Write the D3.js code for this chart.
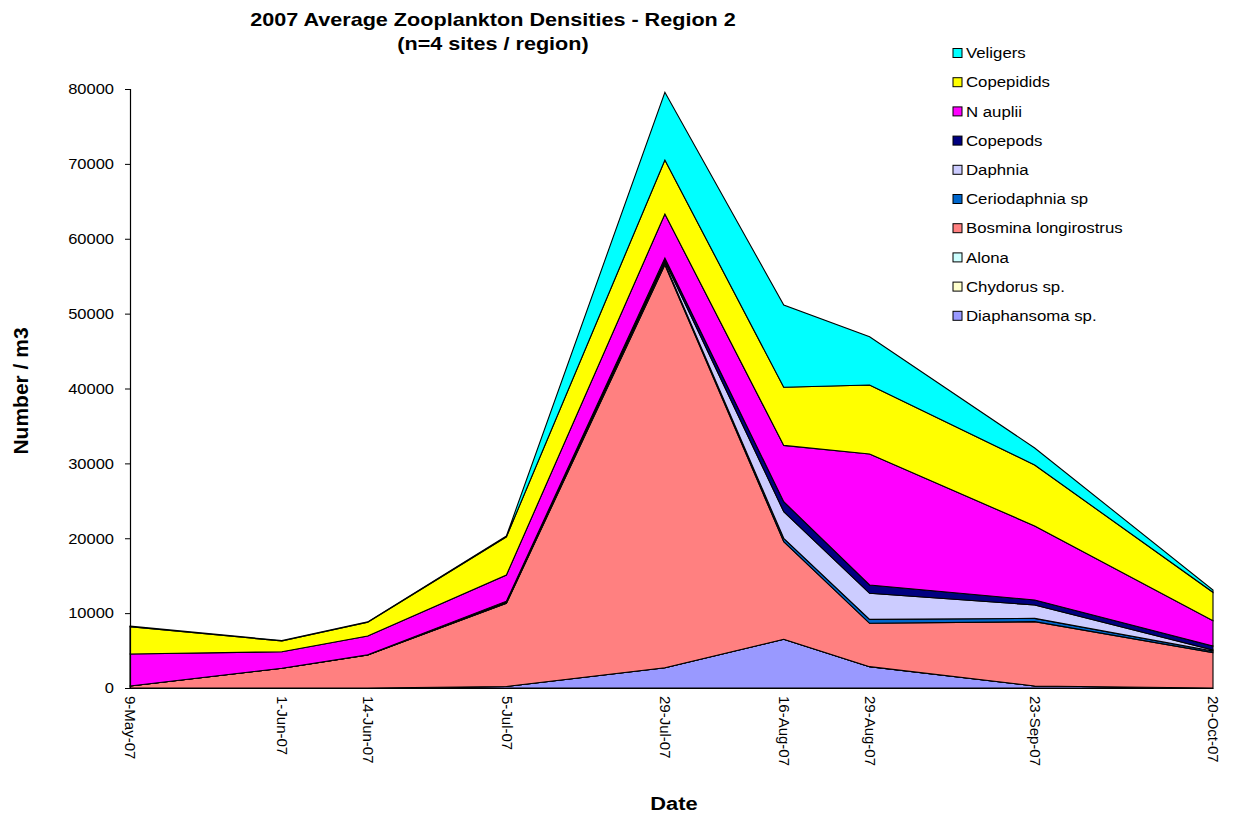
<!DOCTYPE html>
<html>
<head>
<meta charset="utf-8">
<script src="https://cdn.jsdelivr.net/npm/d3@7"></script>
<style>
  body { margin: 0; background: #fff; }
  svg { display: block; font-family: "Liberation Sans", Arial, sans-serif; }
</style>
</head>
<body>
<svg id="chart" width="1235" height="816"></svg>
<script>
// Sampling dates (Region 2, 2007)
const dateLabels = ["9-May-07", "1-Jun-07", "14-Jun-07", "5-Jul-07", "29-Jul-07", "16-Aug-07", "29-Aug-07", "23-Sep-07", "20-Oct-07"];

// Average densities (number / m3), one array per taxon
const diaphansoma = [0, 0, 0, 200, 2710, 6500, 2850, 270, 0];
const chydorus    = [0, 0, 0, 0, 0, 0, 0, 0, 0];
const alona       = [0, 0, 0, 0, 0, 0, 0, 0, 0];
const bosmina     = [270, 2630, 4400, 11100, 53800, 13040, 5790, 8590, 4720];
const ceriodaphnia = [0, 0, 0, 50, 200, 450, 530, 440, 200];
const daphnia     = [0, 0, 0, 100, 300, 3560, 3480, 1790, 160];
const copepods    = [0, 0, 50, 150, 400, 1330, 1110, 660, 530];
const nauplii     = [4270, 2220, 2490, 3480, 5900, 7520, 17490, 9890, 3380];
const copepidids  = [3650, 1430, 1830, 5120, 7210, 7760, 9220, 8140, 3790];
const veligers    = [80, 50, 60, 100, 9040, 10990, 6450, 2270, 310];

// Series, bottom of the stack first
const seriesNames = ["Diaphansoma sp.", "Chydorus sp.", "Alona", "Bosmina longirostrus", "Ceriodaphnia sp", "Daphnia", "Copepods", "N auplii", "Copepidids", "Veligers"];
const seriesValues = [diaphansoma, chydorus, alona, bosmina, ceriodaphnia, daphnia, copepods, nauplii, copepidids, veligers];
const seriesColors = ["#9999FF", "#FFFFCC", "#CCFFFF", "#FF8080", "#0066CC", "#CCCCFF", "#000080", "#FF00FF", "#FFFF00", "#00FFFF"];

const yTicks = [0, 10000, 20000, 30000, 40000, 50000, 60000, 70000, 80000];

const parse = d3.timeParse("%d-%b-%y");
const rows = dateLabels.map((lab, i) => {
  const r = { date: parse(lab), label: lab };
  seriesNames.forEach((n, k) => { r[n] = seriesValues[k][i]; });
  return r;
});

const svg = d3.select("#chart");
const plotLeft = 130, plotRight = 1213, plotTop = 89, plotBottom = 688;

const x = d3.scaleTime()
  .domain(d3.extent(rows, d => d.date))
  .range([plotLeft, plotRight]);
const y = d3.scaleLinear()
  .domain([0, 80000])
  .range([plotBottom, plotTop]);

const stack = d3.stack().keys(seriesNames);
const layers = stack(rows);

const area = d3.area()
  .x(d => x(d.data.date))
  .y0(d => y(d[0]))
  .y1(d => y(d[1]));

svg.append("g")
  .selectAll("path")
  .data(layers)
  .join("path")
  .attr("d", area)
  .attr("fill", (d, i) => seriesColors[i])
  .attr("stroke", "#000")
  .attr("stroke-width", 1.1)
  .attr("stroke-linejoin", "miter");

// Horizontal text is set slightly wide
function wideText(parent, px, py, str, size, sx, opts = {}) {
  return parent.append("text")
    .attr("transform", `translate(${px},${py}) scale(${sx},1)`)
    .attr("text-anchor", opts.anchor || "start")
    .attr("dy", opts.dy || null)
    .style("font-size", size + "px")
    .style("font-weight", opts.bold ? "bold" : null)
    .text(str);
}

// Y axis
const yAxis = d3.axisLeft(y)
  .tickValues(yTicks)
  .tickFormat(d3.format("d"))
  .tickSize(5)
  .tickPadding(8);
const gy = svg.append("g")
  .attr("transform", `translate(${plotLeft},0)`)
  .call(yAxis);
gy.select(".domain").attr("stroke", "#000").attr("stroke-width", 1.2);
gy.selectAll(".tick line").attr("stroke", "#000");
gy.selectAll(".tick text")
  .attr("fill", "#000")
  .attr("x", 0)
  .attr("transform", "translate(-16,0) scale(1.1,1)")
  .style("font-size", "15px")
  .style("font-family", "'Liberation Sans', Arial, sans-serif");

// X axis with vertical date labels
const xAxis = d3.axisBottom(x)
  .tickValues(rows.map(d => d.date))
  .tickFormat((d, i) => dateLabels[i])
  .tickSize(0);
const gx = svg.append("g")
  .attr("transform", `translate(0,${plotBottom})`)
  .call(xAxis);
gx.select(".domain").attr("stroke", "#000").attr("stroke-width", 1.2);
gx.selectAll(".tick text")
  .attr("fill", "#000")
  .attr("transform", "rotate(90)")
  .attr("x", 8)
  .attr("y", 0)
  .attr("dy", "0.35em")
  .attr("text-anchor", "start")
  .style("font-size", "15px")
  .style("font-family", "'Liberation Sans', Arial, sans-serif");

// Titles
wideText(svg, 493, 26, "2007 Average Zooplankton Densities - Region 2", 18, 1.2, { anchor: "middle", bold: true });
wideText(svg, 493, 50, "(n=4 sites / region)", 18, 1.2, { anchor: "middle", bold: true });

svg.append("text")
  .attr("transform", "translate(28,391) rotate(-90)")
  .attr("text-anchor", "middle")
  .style("font-size", "21px").style("font-weight", "bold")
  .text("Number / m3");

wideText(svg, 674, 810, "Date", 19, 1.15, { anchor: "middle", bold: true });

// Legend, top of the stack first
const legendOrder = d3.range(seriesNames.length).reverse();
const legend = svg.append("g")
  .selectAll("g")
  .data(legendOrder)
  .join("g")
  .attr("transform", (k, i) => `translate(953,${53 + i * 29.2})`);
legend.append("rect")
  .attr("x", 0).attr("y", -4.5)
  .attr("width", 9).attr("height", 9)
  .attr("fill", k => seriesColors[k])
  .attr("stroke", "#000").attr("stroke-width", 1);
legend.each(function (k) {
  wideText(d3.select(this), 13, 0, seriesNames[k], 15, 1.12, { dy: "0.35em" });
});
</script>
</body>
</html>
